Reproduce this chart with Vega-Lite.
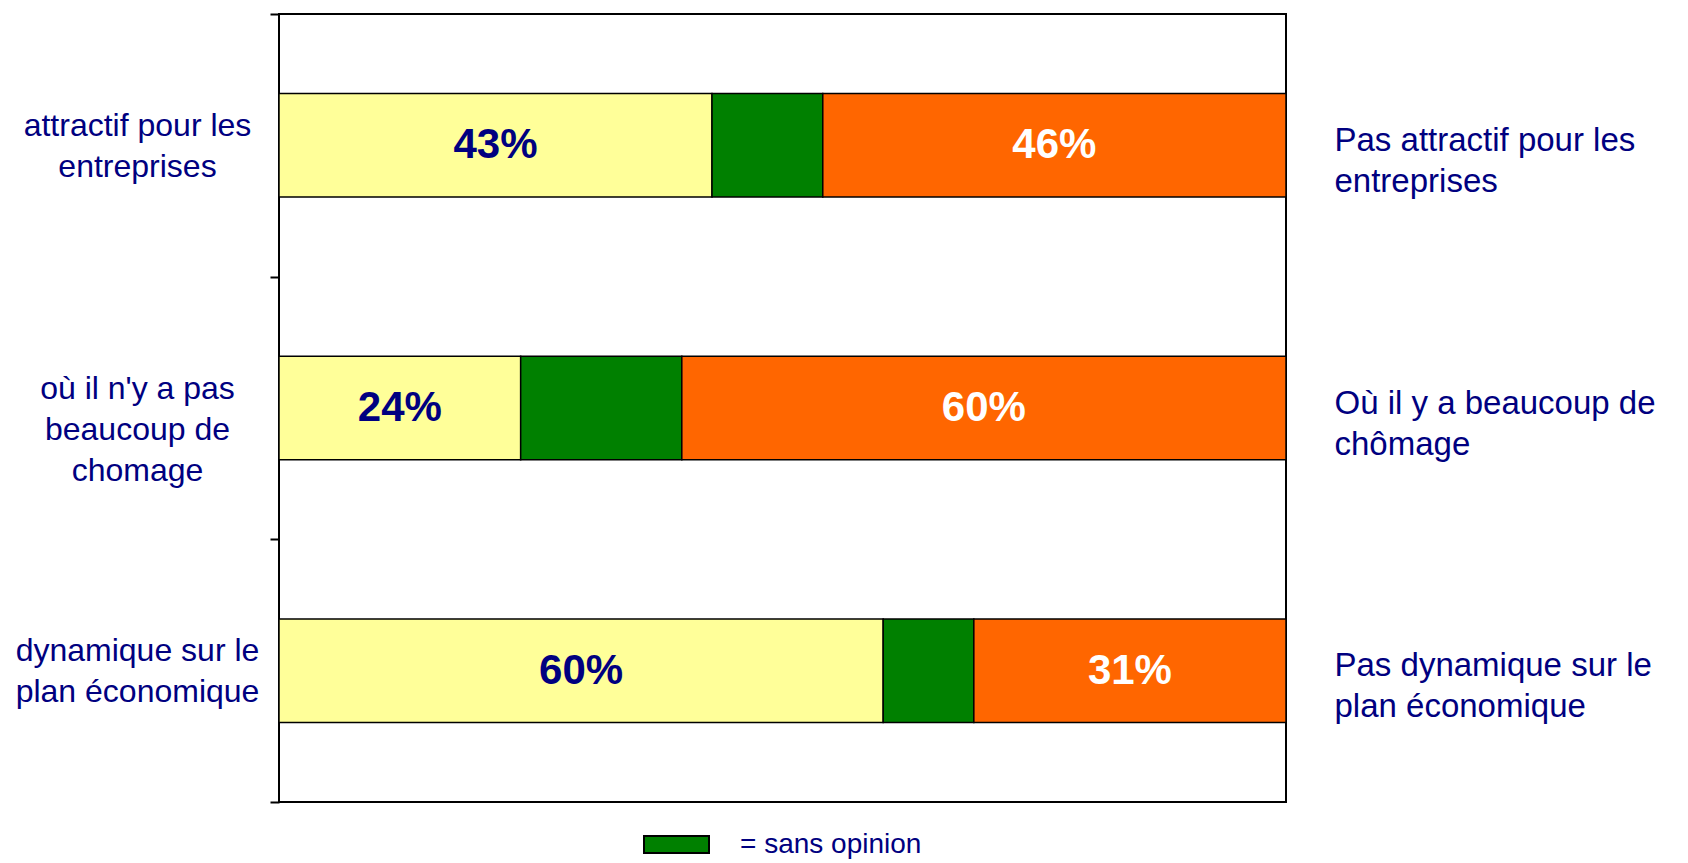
{
  "$schema": "https://vega.github.io/schema/vega-lite/v6.json",
  "width": 1007,
  "height": 788,
  "autosize": {"type": "none"},
  "padding": {"left": 279, "top": 14, "right": 402, "bottom": 61},
  "background": "white",
  "config": {
    "view": {"stroke": "black", "strokeWidth": 2},
    "font": "Liberation Sans"
  },
  "data": {
    "values": [
      {"gauche": "attractif pour les\nentreprises", "droite": "Pas attractif pour les\nentreprises", "reponse": "oui", "rang": 1, "pct": 0.43},
      {"gauche": "attractif pour les\nentreprises", "droite": "Pas attractif pour les\nentreprises", "reponse": "sans opinion", "rang": 2, "pct": 0.11},
      {"gauche": "attractif pour les\nentreprises", "droite": "Pas attractif pour les\nentreprises", "reponse": "non", "rang": 3, "pct": 0.46},
      {"gauche": "où il n'y a pas\nbeaucoup de\nchomage", "droite": "Où il y a beaucoup de\nchômage", "reponse": "oui", "rang": 1, "pct": 0.24},
      {"gauche": "où il n'y a pas\nbeaucoup de\nchomage", "droite": "Où il y a beaucoup de\nchômage", "reponse": "sans opinion", "rang": 2, "pct": 0.16},
      {"gauche": "où il n'y a pas\nbeaucoup de\nchomage", "droite": "Où il y a beaucoup de\nchômage", "reponse": "non", "rang": 3, "pct": 0.60},
      {"gauche": "dynamique sur le\nplan économique", "droite": "Pas dynamique sur le\nplan économique", "reponse": "oui", "rang": 1, "pct": 0.60},
      {"gauche": "dynamique sur le\nplan économique", "droite": "Pas dynamique sur le\nplan économique", "reponse": "sans opinion", "rang": 2, "pct": 0.09},
      {"gauche": "dynamique sur le\nplan économique", "droite": "Pas dynamique sur le\nplan économique", "reponse": "non", "rang": 3, "pct": 0.31}
    ]
  },
  "layer": [
    {
      "mark": {"type": "bar", "stroke": "black", "strokeWidth": 1.5, "height": {"band": 0.394}},
      "encoding": {
        "y": {
          "field": "gauche", "type": "nominal", "sort": null,
          "scale": {"paddingInner": 0, "paddingOuter": 0},
          "axis": {
            "orient": "left", "title": null, "domain": false,
            "ticks": true, "tickBand": "extent", "tickSize": 9, "tickColor": "black", "tickWidth": 2,
            "labelAlign": "center", "labelBaseline": "middle",
            "labelFont": "Liberation Sans", "labelFontSize": 32, "labelColor": "#000080",
            "labelLineHeight": 41, "labelLimit": 400, "labelPadding": 133, "labelOffset": -20,
            "labelExpr": "split(datum.label, '\\n')"
          }
        },
        "x": {
          "field": "pct", "type": "quantitative", "stack": "zero",
          "scale": {"domain": [0, 1], "nice": false}, "axis": null
        },
        "order": {"field": "rang", "type": "quantitative"},
        "color": {
          "field": "reponse", "type": "nominal",
          "scale": {"domain": ["oui", "sans opinion", "non"], "range": ["#FFFF99", "#008000", "#FF6600"]},
          "legend": {
            "orient": "none", "legendX": 364, "legendY": 797, "padding": 0,
            "values": ["sans opinion"], "title": null,
            "labelExpr": "'= ' + datum.label",
            "labelFont": "Liberation Sans", "labelFontSize": 28, "labelColor": "#000080",
            "labelOffset": 30, "labelLimit": 400,
            "symbolType": "M-1,-0.26L1,-0.26L1,0.26L-1,0.26Z", "symbolSize": 4225,
            "symbolStrokeColor": "black", "symbolStrokeWidth": 2
          }
        }
      }
    },
    {
      "mark": {"type": "text", "font": "Liberation Sans", "fontSize": 42, "fontWeight": "bold", "baseline": "middle"},
      "encoding": {
        "y": {
          "field": "droite", "type": "nominal", "sort": null,
          "scale": {"paddingInner": 0, "paddingOuter": 0},
          "axis": {
            "orient": "right", "title": null, "domain": false, "ticks": false,
            "labelAlign": "left", "labelBaseline": "middle",
            "labelFont": "Liberation Sans", "labelFontSize": 33, "labelColor": "#000080",
            "labelLineHeight": 41, "labelLimit": 400, "labelPadding": 48, "labelOffset": -5,
            "labelExpr": "split(datum.label, '\\n')"
          }
        },
        "x": {"field": "pct", "type": "quantitative", "stack": "zero", "bandPosition": 0.5},
        "detail": {"field": "reponse"},
        "order": {"field": "rang", "type": "quantitative"},
        "fill": {"condition": {"test": "datum.reponse == 'non'", "value": "white"}, "value": "#000080"},
        "text": {
          "condition": {"test": "datum.reponse == 'sans opinion'", "value": ""},
          "field": "pct", "type": "quantitative", "format": ".0%"
        }
      }
    }
  ],
  "resolve": {"scale": {"y": "independent"}, "axis": {"y": "independent"}}
}
